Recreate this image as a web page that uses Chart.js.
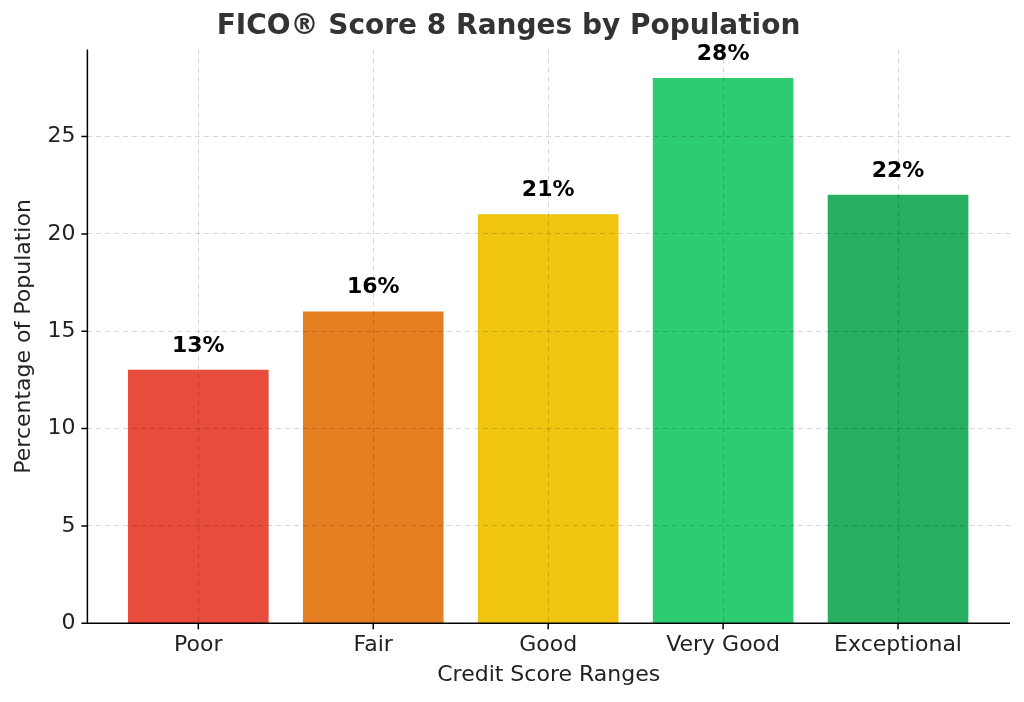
<!DOCTYPE html>
<html>
<head>
<meta charset="utf-8">
<script src="https://cdn.jsdelivr.net/npm/chart.js@4"></script>
<style>
  html, body { margin: 0; padding: 0; background: #fff; }
  #wrap { width: 1024px; height: 702px; }
</style>
</head>
<body>
<div id="wrap"><canvas id="c" width="1024" height="702"></canvas></div>
<script>
const CATEGORIES = ['Poor', 'Fair', 'Good', 'Very Good', 'Exceptional'];
const PERCENTS = [13, 16, 21, 28, 22];
const BAR_COLORS = ['#e74c3c', '#e67e22', '#f1c40f', '#2ecc71', '#27ae60'];
const Y_TICKS = [0, 5, 10, 15, 20, 25];

const FONT = 'DejaVu Sans';

// value labels above each bar, plus left/bottom spines with solid tick marks
const valueLabels = {
  id: 'valueLabels',
  afterDatasetsDraw(chart) {
    const ctx = chart.ctx;
    const meta = chart.getDatasetMeta(0);
    ctx.save();
    ctx.font = 'bold 22px "' + FONT + '"';
    ctx.fillStyle = '#000';
    ctx.textAlign = 'center';
    ctx.textBaseline = 'bottom';
    meta.data.forEach((bar, i) => {
      ctx.fillText(PERCENTS[i] + '%', bar.x, bar.y - 13);
    });
    ctx.restore();
  },
  afterDraw(chart) {
    const { ctx, chartArea: a, scales } = chart;
    ctx.save();
    ctx.strokeStyle = '#000';
    ctx.lineWidth = 1.5;
    ctx.beginPath();
    ctx.moveTo(a.left, a.top);
    ctx.lineTo(a.left, a.bottom);
    ctx.lineTo(a.right, a.bottom);
    scales.y.ticks.forEach((t) => {
      const y = scales.y.getPixelForValue(t.value);
      ctx.moveTo(a.left - 6, y);
      ctx.lineTo(a.left, y);
    });
    scales.x.ticks.forEach((t) => {
      const x = scales.x.getPixelForValue(t.value);
      ctx.moveTo(x, a.bottom);
      ctx.lineTo(x, a.bottom + 6);
    });
    ctx.stroke();
    ctx.restore();
  },
};

new Chart(document.getElementById('c'), {
  type: 'bar',
  data: {
    datasets: [{
      data: PERCENTS.map((v, i) => ({ x: i, y: v })),
      backgroundColor: BAR_COLORS,
      barThickness: 140,
    }],
  },
  options: {
    responsive: false,
    animation: false,
    layout: { padding: { left: 7, right: 14, top: 0, bottom: 10 } },
    plugins: {
      legend: { display: false },
      tooltip: { enabled: false },
      title: {
        display: true,
        text: 'FICO® Score 8 Ranges by Population',
        color: '#333',
        font: { family: FONT, size: 28, weight: 'bold' },
        padding: { top: 10, bottom: 6 },
      },
    },
    scales: {
      x: {
        type: 'linear',
        position: 'bottom',
        offset: false,
        min: -0.634,
        max: 4.64,
        afterBuildTicks: (axis) => { axis.ticks = CATEGORIES.map((_, i) => ({ value: i })); },
        ticks: {
          callback: (v) => CATEGORIES[v],
          color: '#222',
          font: { family: FONT, size: 22 },
          padding: 3,
        },
        grid: { z: 1, offset: false, color: 'rgba(0,0,0,0.16)', tickColor: 'rgba(0,0,0,0)', tickLength: 6 },
        border: { display: false, dash: [5, 4] },
        title: {
          display: true,
          text: 'Credit Score Ranges',
          color: '#222',
          font: { family: FONT, size: 22 },
          padding: { top: 0 },
        },
      },
      y: {
        position: 'left',
        min: 0,
        max: 29.47,
        afterBuildTicks: (axis) => { axis.ticks = Y_TICKS.map((v) => ({ value: v })); },
        ticks: {
          color: '#222',
          font: { family: FONT, size: 22 },
          padding: 6,
        },
        grid: { z: 1, color: 'rgba(0,0,0,0.16)', tickColor: 'rgba(0,0,0,0)', tickLength: 6 },
        border: { display: false, dash: [5, 4] },
        title: {
          display: true,
          text: 'Percentage of Population',
          color: '#222',
          font: { family: FONT, size: 22 },
          padding: { bottom: 4 },
        },
      },
    },
  },
  plugins: [valueLabels],
});
</script>
</body>
</html>
